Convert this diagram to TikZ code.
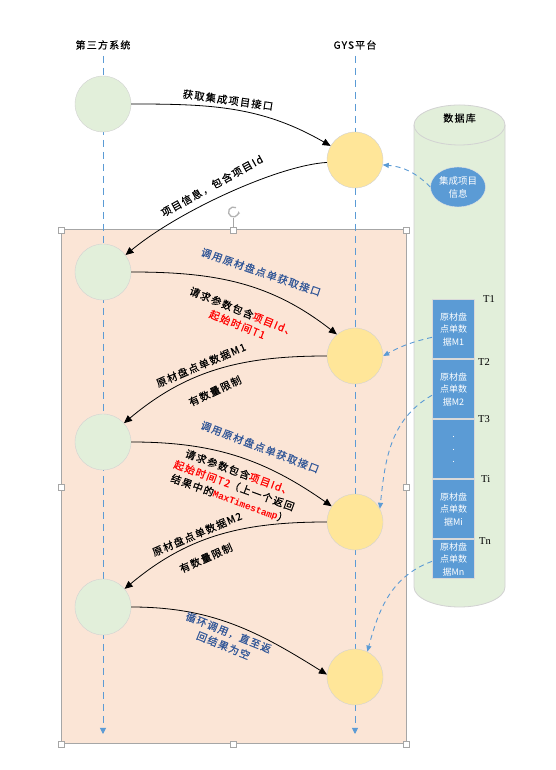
\documentclass[tikz,border=0pt]{standalone}
\usepackage{fontspec}
\setmainfont{Noto Sans CJK SC}
\setmonofont{Liberation Mono}
\newfontfamily\lblfont[LetterSpace=12, FakeBold=0.5]{Noto Sans CJK SC}
\newfontfamily\serifT{Liberation Serif}
\usetikzlibrary{arrows.meta, positioning, shapes.geometric}
\definecolor{sysgreen}{HTML}{E2EFDA}
\definecolor{gysyellow}{HTML}{FFE699}
\definecolor{peach}{HTML}{FBE5D6}
\definecolor{dbblue}{HTML}{5B9BD5}
\definecolor{lblblue}{RGB}{47, 85, 151}
\newcommand{\rtxt}[1]{\textcolor{red}{#1}}

\begin{document}
\begin{tikzpicture}[x=1pt, y=1pt,
        sys/.style={circle, draw=gray!35, fill=sysgreen, minimum size=56pt, inner sep=0pt},
        gys/.style={circle, draw=gray!35, fill=gysyellow, minimum size=56pt, inner sep=0pt},
        infonode/.style={ellipse, fill=dbblue, draw=gray!20, minimum width=55pt, minimum height=40pt, inner sep=0pt, align=center, text=white, font=\fontsize{9.5}{13}\selectfont},
        datbox/.style={rectangle, draw=gray!30, line width=1pt, fill=dbblue, text=white, minimum width=42pt, minimum height=59pt, align=center, inner sep=0pt, font=\fontsize{9}{12.5}\selectfont},
        tlbl/.style={font=\serifT\fontsize{10.5}{12}\selectfont, inner sep=0pt},
        head/.style={font=\lblfont\fontsize{10}{12}\selectfont, inner sep=1pt},
        lbl/.style={font=\lblfont\fontsize{10.3}{14}\selectfont, align=center, inner sep=1pt},
        arr/.style={-{Triangle[length=8pt,width=7pt]}, line width=0.8pt},
        dbarr/.style={-{Triangle[length=6pt,width=5pt]}, dbblue, line width=0.9pt, dash pattern=on 5pt off 4pt},
        lifeline/.style={-{Triangle[length=6pt,width=6pt]}, dbblue, line width=0.9pt, dash pattern=on 7pt off 5pt},
        hdl/.style={rectangle, draw=gray!70, fill=white, minimum size=6pt, inner sep=0pt}
    ]
    \useasboundingbox (0,0) rectangle (555,770);
    \fill[white] (0,0) rectangle (555,770);

    % loop frame
    \draw[fill=peach, draw=gray!70, line width=1pt] (61,26) rectangle (406,540);
    \foreach \hx/\hy in {61/540, 233.5/540, 406/540, 61/283, 406/283, 61/26, 233.5/26, 406/26}
        \node[hdl] at (\hx,\hy) {};
    \draw[gray!70, line width=0.6pt] (233.5,543) -- (233.5,552);
    \draw[gray!60, line width=1.3pt, -{Stealth[length=3pt]}] (233.5,558) ++(60:5) arc[start angle=60, end angle=370, radius=5];

    % database
    \fill[sysgreen] (414,645) -- (414,183) arc[start angle=180, end angle=360, x radius=45.5, y radius=20] -- (505,645) arc[start angle=0, end angle=180, x radius=45.5, y radius=20] -- cycle;
    \draw[gray!35, line width=0.8pt] (414,645) -- (414,183) arc[start angle=180, end angle=360, x radius=45.5, y radius=20] -- (505,645);
    \draw[gray!35, line width=0.8pt] (459.5,645) ellipse[x radius=45.5, y radius=20];
    \node[head] (dbname) at (459.5,652) {数据库};
    \node[infonode] (info) at (458,583) {集成项目\\信息};

    \node[datbox] (m1) at (453.5,440.5) {原材盘\\点单数\\据M1};
    \node[datbox, below=0pt of m1] (m2) {原材盘\\点单数\\据M2};
    \node[datbox, below=0pt of m2] (m3) {.\\.\\.};
    \node[datbox, below=0pt of m3] (mi) {原材盘\\点单数\\据Mi};
    \node[datbox, below=0pt of mi, minimum height=39pt] (mn) {原材盘\\点单数\\据Mn};

    \node[tlbl, right=8pt of m1.north east] (t1) {T1};
    \node[tlbl, right=3pt of m2.north east, yshift=-3pt] (t2) {T2};
    \node[tlbl, right=3pt of m3.north east] (t3) {T3};
    \node[tlbl, right=6pt of mi.north east] (ti) {Ti};
    \node[tlbl, right=4pt of mn.north east, yshift=-2pt] (tn) {Tn};

    % lifelines
    \node[head] (sys) at (103,725) {第三方系统};
    \node[head] (gys) at (355,725) {GYS平台};
    \coordinate (sysend) at (103,36);
    \coordinate (gysend) at (355,36);
    \draw[lifeline] ([yshift=-5pt]sys.south) -- (sysend);
    \draw[lifeline] ([yshift=-5pt]gys.south) -- (gysend);

    \node[sys] (s1) at (103,666) {};
    \node[sys] (s2) at (103,498) {};
    \node[sys] (s3) at (103,328) {};
    \node[sys] (s4) at (103,163) {};
    \node[gys] (g1) at (355,610) {};
    \node[gys] (g2) at (355,414) {};
    \node[gys] (g3) at (355,248) {};
    \node[gys] (g4) at (355,93) {};

    % messages
    \draw[arr] (s1.east) to[out=0, in=150] (g1.150)
        node[lbl, rotate=-8] at (228,670) {获取集成项目接口};
    \draw[arr] (g1.185) .. controls (280,605) and (180,560) .. (s2.37)
        node[lbl, rotate=29] at (212,584) {项目信息，包含项目Id};
    \draw[arr] (s2.east) to[out=0, in=142] (g2.130)
        node[lbl, rotate=-19, text=lblblue] at (261,498) {调用原材盘点单获取接口}
        node[lbl, rotate=-22] at (240,452) {请求参数包含\rtxt{项目Id、}\\\rtxt{起始时间T1}};
    \draw[arr] (g2.west) to[out=180, in=40] (s3.42)
        node[lbl, rotate=23] at (201,405) {原材盘点单数据M1}
        node[lbl, rotate=25] at (215,379) {有数量限制};
    \draw[arr] (s3.east) to[out=0, in=145] (g3.146)
        node[lbl, rotate=-21, text=lblblue] at (260,323) {调用原材盘点单获取接口}
        node[lbl, rotate=-20] at (234,284) {请求参数包含\rtxt{项目Id、}\\\rtxt{起始时间T2}（上一个返回\\结果中的\rtxt{\ttfamily\bfseries\fontsize{9.5}{14}\selectfont MaxTimestamp}）};
    \draw[arr] (g3.west) to[out=180, in=40] (s4.40)
        node[lbl, rotate=23] at (197,236) {原材盘点单数据M2}
        node[lbl, rotate=24] at (206,212) {有数量限制};
    \draw[arr] (s4.east) to[out=0, in=148] (g4.175)
        node[lbl, rotate=-22, text=lblblue] at (226,131) {循环调用，直至返\\回结果为空};

    % data from database
    \draw[dbarr] (info.west) to[bend right=20] (g1.-10);
    \draw[dbarr] (m1.200) to[bend right=8] (g2.east);
    \draw[dbarr] (m2.195) to[out=210, in=84] (g3.28);
    \draw[dbarr] (mn.185) to[out=200, in=75] (g4.64);
\end{tikzpicture}
\end{document}
